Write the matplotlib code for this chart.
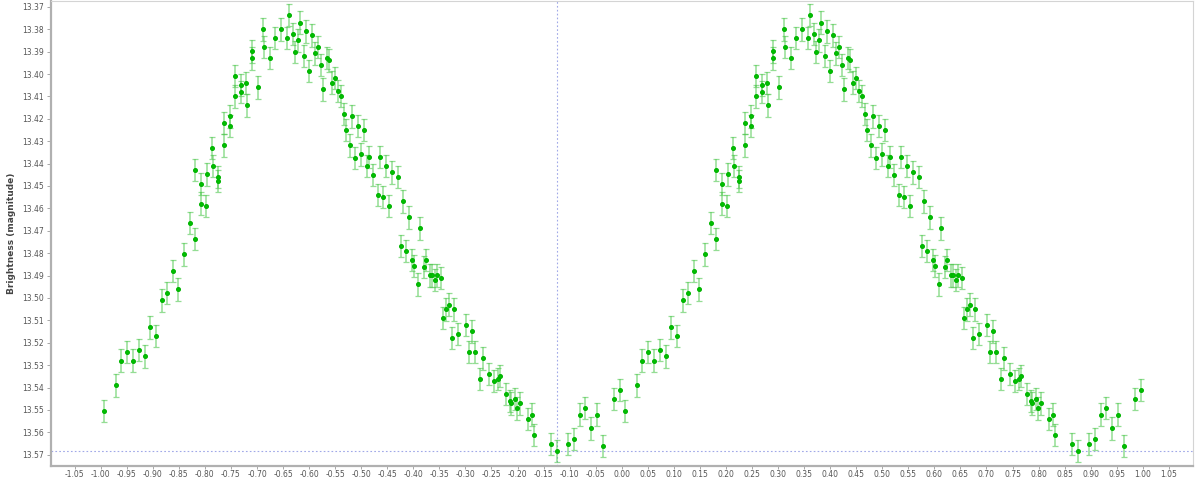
import matplotlib
matplotlib.use("Agg")
import matplotlib.pyplot as plt
import numpy as np

# phase in [0, 1), drawn at phase - 1 and at phase (two cycles)
phase = [
    0.0061, 0.0284, 0.0393, 0.0502, 0.0618, 0.0726, 0.0841, 0.0944, 0.1052, 0.1167,
    0.1276, 0.1386, 0.1488, 0.1597, 0.1704, 0.1810, 0.1818, 0.1929, 0.1933, 0.2025,
    0.2044, 0.2140, 0.2146, 0.2245, 0.2255, 0.2357, 0.2365, 0.2476, 0.2484, 0.2582,
    0.2576, 0.2691, 0.2697, 0.2795, 0.2801, 0.2905, 0.2911, 0.3023, 0.3122, 0.3128,
    0.3240, 0.3349, 0.3459, 0.3566, 0.3618, 0.3681, 0.3727, 0.3791, 0.3829, 0.3900,
    0.3944, 0.3996, 0.4053, 0.4111, 0.4161, 0.4219, 0.4271, 0.4334, 0.4380, 0.4443,
    0.4487, 0.4553, 0.4603, 0.4660, 0.4712, 0.4775, 0.4821, 0.4885, 0.4937, 0.4987,
    0.5044, 0.5102, 0.5140, 0.5217, 0.5313, 0.5365, 0.5422, 0.5474, 0.5532, 0.5589,
    0.5697, 0.5806, 0.5916, 0.5762, 0.5864, 0.5973, 0.6017, 0.6127, 0.6088, 0.6196,
    0.6248, 0.6311, 0.6357, 0.6420, 0.6459, 0.6530, 0.6568, 0.6626, 0.6676, 0.6741,
    0.6785, 0.6848, 0.7010, 0.7067, 0.7117, 0.7175, 0.7284, 0.7336, 0.7443, 0.7547,
    0.7616, 0.7655, 0.7777, 0.7846, 0.7879, 0.7942, 0.7988, 0.8052, 0.8205, 0.8269,
    0.8321, 0.8641, 0.8756, 0.8973, 0.9083, 0.9190, 0.9299, 0.9415, 0.9524, 0.9631,
    0.9850, 0.9965,
]
magnitude = [
    13.5504, 13.5390, 13.5280, 13.5240, 13.5280, 13.5231, 13.5261, 13.5131, 13.5171, 13.5011,
    13.4979, 13.4880, 13.4962, 13.4805, 13.4664, 13.4738, 13.4429, 13.4490, 13.4579, 13.4590,
    13.4448, 13.4331, 13.4410, 13.4459, 13.4478, 13.4218, 13.4319, 13.4189, 13.4233, 13.4008,
    13.4100, 13.4048, 13.4081, 13.4039, 13.4140, 13.3899, 13.3930, 13.4060, 13.3801, 13.3879,
    13.3929, 13.3840, 13.3801, 13.3840, 13.3737, 13.3821, 13.3901, 13.3850, 13.3770, 13.3920,
    13.3810, 13.3987, 13.3828, 13.3908, 13.3880, 13.3959, 13.4069, 13.3928, 13.3939, 13.4038,
    13.4018, 13.4076, 13.4099, 13.4179, 13.4250, 13.4319, 13.4189, 13.4375, 13.4231, 13.4359,
    13.4250, 13.4411, 13.4370, 13.4450, 13.4539, 13.4370, 13.4548, 13.4410, 13.4590, 13.4439,
    13.4459, 13.4569, 13.4640, 13.4768, 13.4789, 13.4831, 13.4856, 13.4689, 13.4939, 13.4861,
    13.4831, 13.4899, 13.4899, 13.4920, 13.4899, 13.4910, 13.5090, 13.5051, 13.5030, 13.5180,
    13.5051, 13.5160, 13.5120, 13.5240, 13.5149, 13.5240, 13.5362, 13.5270, 13.5340, 13.5371,
    13.5362, 13.5349, 13.5429, 13.5460, 13.5471, 13.5450, 13.5493, 13.5471, 13.5541, 13.5521,
    13.5611, 13.5652, 13.5682, 13.5652, 13.5631, 13.5521, 13.5492, 13.5582, 13.5521, 13.5661,
    13.5451, 13.5411,
]
mag_error = 0.005

x_ticks = np.round(np.arange(-1.05, 1.0501, 0.05), 2)
y_ticks = np.round(np.arange(13.37, 13.5701, 0.01), 2)

phase = np.array(phase)
magnitude = np.array(magnitude)

fig = plt.figure(figsize=(12, 4.8), dpi=100)
ax = fig.add_axes([50.7 / 1200, 1 - 465.5 / 480, 1142.6 / 1200, 464.5 / 480])

for shift in (-1, 0):
    ax.errorbar(phase + shift, magnitude, yerr=mag_error, fmt='o', ms=2.6,
                color='#00c400', mec='#00b400', ecolor=(0.3, 0.78, 0.3, 0.6),
                elinewidth=1.1, capsize=2.2, capthick=0.9, zorder=3)

# crosshair on the faintest point
i = np.argmax(magnitude)
ax.axvline(phase[i] - 1, color='#a0a8e8', lw=0.8, ls=(0, (1.5, 2)), zorder=1)
ax.axhline(magnitude[i], color='#a0a8e8', lw=0.8, ls=(0, (1.5, 2)), zorder=1)

ax.set_xlim(-1.096, 1.097)
ax.set_ylim(13.5748, 13.3674)
ax.set_xticks(x_ticks)
ax.set_xticklabels(['%.2f' % v for v in x_ticks])
ax.set_yticks(y_ticks)
ax.set_yticklabels(['%.2f' % v for v in y_ticks])

ax.tick_params(labelsize=5.5, labelcolor='#555555', color='#999999',
               length=3, width=0.6, pad=2)
ax.tick_params(axis='x', length=2.5, pad=1)
ax.set_ylabel('Brightness (magnitude)', fontsize=6.5, fontweight='bold',
              color='#444444', labelpad=4)

for side in ('left', 'bottom'):
    ax.spines[side].set_color('#b0b0b0')
    ax.spines[side].set_linewidth(1.6)
for side in ('top', 'right'):
    ax.spines[side].set_color('#d4d4d4')
    ax.spines[side].set_linewidth(0.8)

fig.savefig('out.png', dpi=100)
